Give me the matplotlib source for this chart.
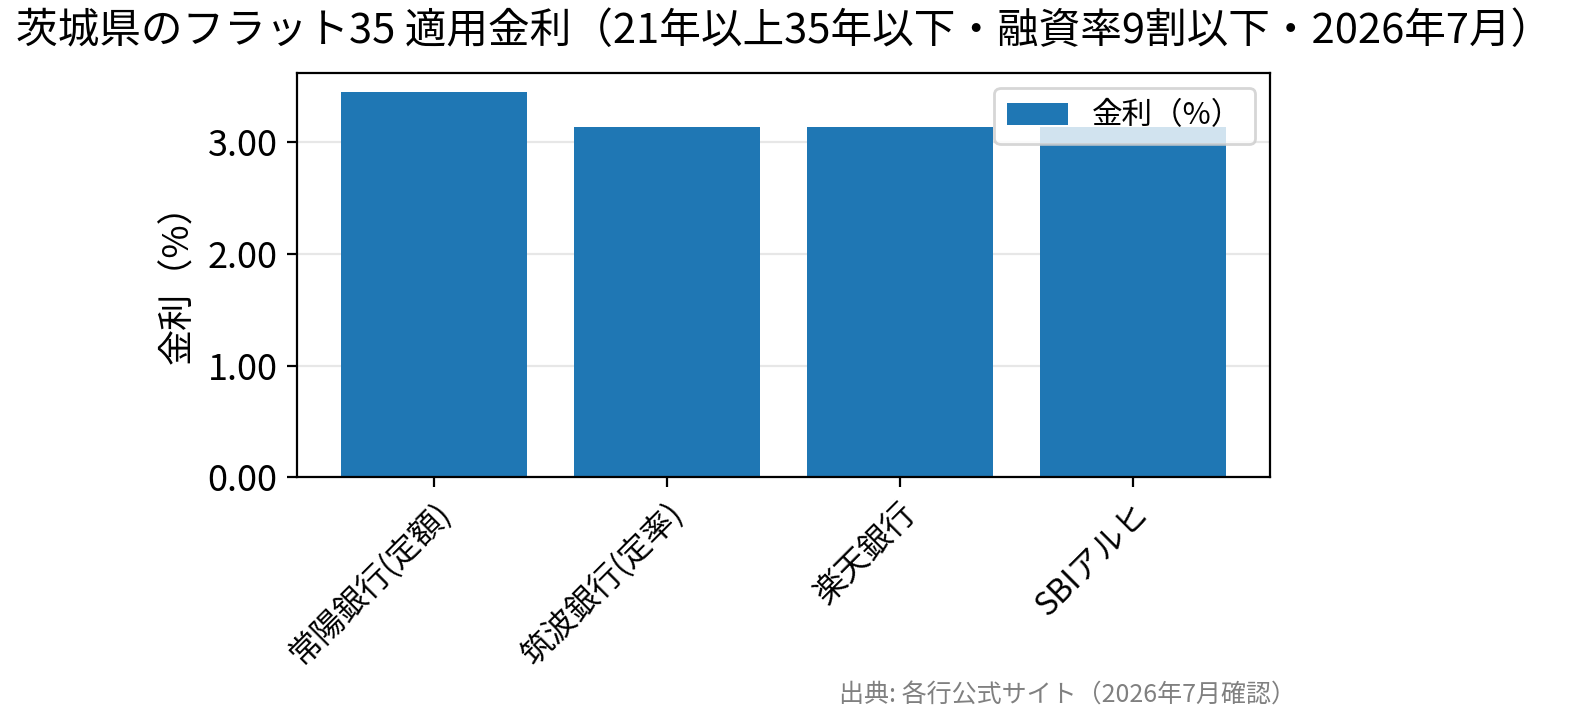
import numpy as np
import matplotlib.pyplot as plt
from matplotlib.ticker import FormatStrFormatter

plt.rcParams['font.family'] = ['Noto Sans CJK JP', 'DejaVu Sans']

# Data
banks = ['常陽銀行(定額)', '筑波銀行(定率)', '楽天銀行', 'SBIアルヒ']
rates = [3.45, 3.14, 3.14, 3.14]

fig = plt.figure(figsize=(7.845, 3.625), dpi=200)
ax = fig.add_axes([0.1893, 0.342, 0.6201, 0.5573])

x = np.arange(len(banks))
ax.bar(x, rates, width=0.8, color='#1f77b4', label='金利（%）')

ax.set_ylim(0, max(rates) * 1.05)
ax.yaxis.set_major_formatter(FormatStrFormatter('%.2f'))
ax.set_yticks([0, 1, 2, 3])
ax.tick_params(axis='y', labelsize=13)
ax.set_xticks(x)
ax.set_xticklabels(banks, rotation=45, ha='right', rotation_mode='anchor', fontsize=11.5)
ax.set_ylabel('金利（%）', fontsize=13)
ax.grid(axis='y', alpha=0.3)
ax.set_axisbelow(True)
ax.legend(loc='upper right', fontsize=11)

fig.suptitle('茨城県のフラット35 適用金利（21年以上35年以下・融資率9割以下・2026年7月）',
             fontsize=15, x=0.5, y=0.985)
fig.text(0.826, 0.04, '出典: 各行公式サイト（2026年7月確認）', ha='right', va='center',
         fontsize=9, color='gray')

fig.savefig('out.png', dpi=200)
